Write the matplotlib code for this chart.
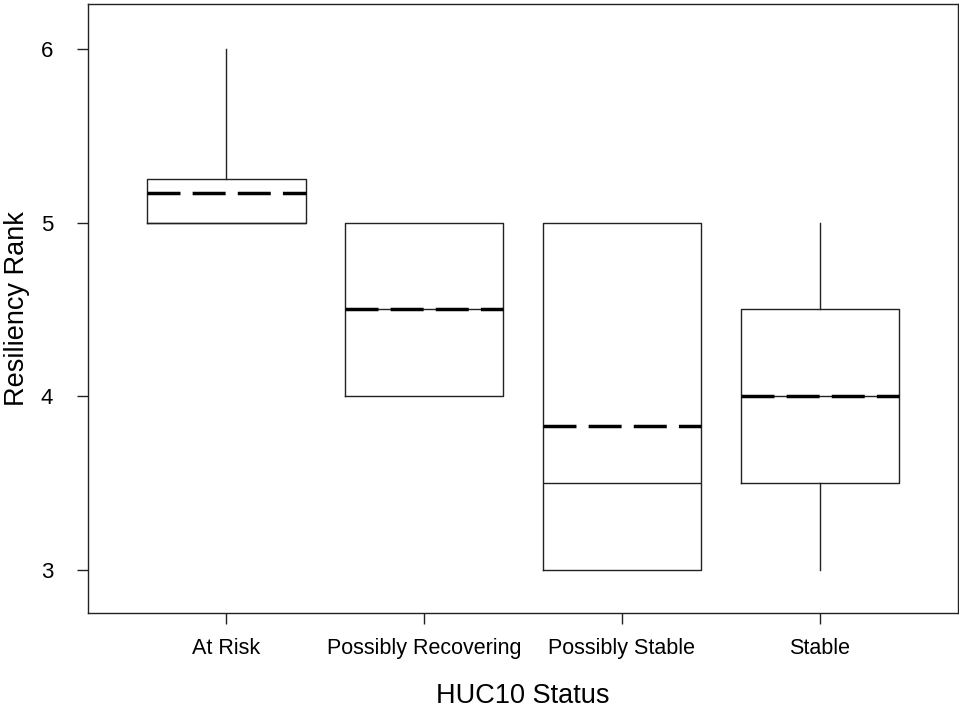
import matplotlib
matplotlib.use("Agg")
import matplotlib.pyplot as plt

plt.rcParams['font.family'] = ['Liberation Sans', 'DejaVu Sans']

categories = ["At Risk", "Possibly Recovering", "Possibly Stable", "Stable"]
q1 = [5.0, 4.0, 3.0, 3.5]
q3 = [5.25, 5.0, 5.0, 4.5]
medians = [5.0, 4.5, 3.5, 4.0]
means = [5.17, 4.5, 3.83, 4.0]
whislo = [5.0, 4.0, 3.0, 3.0]
whishi = [6.0, 5.0, 5.0, 5.0]
yticks = [3, 4, 5, 6]

stats = []
for i, c in enumerate(categories):
    stats.append(dict(label=c, q1=q1[i], q3=q3[i], med=medians[i], mean=means[i],
                      whislo=whislo[i], whishi=whishi[i], fliers=[]))

fig = plt.figure(figsize=(9.59, 7.14), dpi=100)
ax = fig.add_axes([88/959, 1-613/714, 870/959, 609/714])

ax.bxp(stats, positions=range(1, len(categories)+1), widths=0.8,
       showmeans=True, meanline=True, showcaps=False, showfliers=False,
       boxprops=dict(color='#222222', linewidth=1.0),
       whiskerprops=dict(color='#222222', linewidth=1.0),
       medianprops=dict(color='#222222', linewidth=1.0),
       meanprops=dict(color='black', linewidth=2.5, linestyle=(0, (9.5, 3.5))))

ax.set_xlim(0.3, 4.7)
ax.set_ylim(2.75, 6.26)
ax.set_yticks(yticks)
ax.set_yticklabels([str(t) for t in yticks], fontsize=16)
ax.set_xticks(range(1, len(categories)+1))
ax.set_xticklabels(categories, fontsize=15.5)
ax.tick_params(direction='out', length=8, width=1, color='#222222')
ax.tick_params(axis='y', pad=17)
ax.tick_params(axis='x', pad=10)
for s in ax.spines.values():
    s.set_linewidth(1.0)
    s.set_color('#222222')

ax.set_ylabel("Resiliency Rank", fontsize=19.5, labelpad=8)
ax.set_xlabel("HUC10 Status", fontsize=19.5, labelpad=17)

fig.savefig("out.png", dpi=100)
